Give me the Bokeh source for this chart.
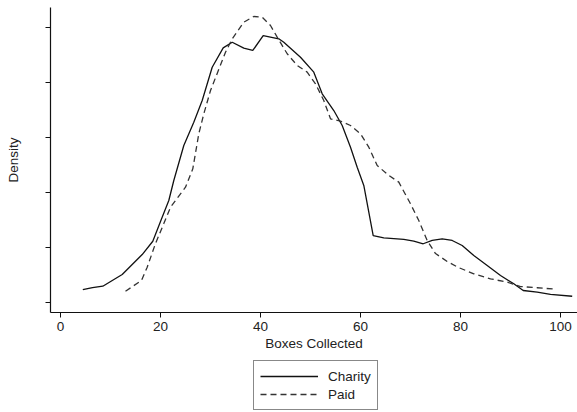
from bokeh.plotting import figure
from bokeh.models import Legend, LegendItem, FixedTicker, Range1d
from bokeh.layouts import column
from bokeh.embed import file_html
from bokeh.resources import INLINE

charity_x = [4.46, 6.4, 8.46, 12.34, 16.34, 18.46, 20.0, 21.66, 22.66, 24.66,
             26.66, 28.34, 30.34, 32.54, 34.34, 36.66, 38.46, 40.54, 43.66, 44.66,
             48.0, 50.66, 52.34, 54.66, 56.34, 58.0, 59.34, 60.66, 62.54, 64.66,
             68.66, 70.66, 72.54, 74.34, 76.34, 78.34, 80.34, 82.66, 85.34, 88.0,
             90.66, 92.54, 95.34, 98.0, 102.34]
charity_y = [0.00118, 0.00136, 0.00148, 0.00255, 0.00436, 0.00557, 0.00736, 0.00927, 0.01109, 0.01427,
             0.01639, 0.01836, 0.02139, 0.02315, 0.02366, 0.02312, 0.02291, 0.02427, 0.02397, 0.02366,
             0.02230, 0.02094, 0.01897, 0.01745, 0.01609, 0.01412, 0.01230, 0.01064, 0.00609, 0.00588,
             0.00573, 0.00557, 0.00534, 0.00564, 0.00579, 0.00564, 0.00518, 0.00427, 0.00336, 0.00245,
             0.00170, 0.00109, 0.00094, 0.00073, 0.00057]

paid_x = [13.0, 16.2, 17.34, 19.0, 20.66, 22.0, 25.0, 26.46, 27.66, 28.66,
          30.0, 33.0, 34.34, 36.66, 38.66, 40.34, 42.0, 43.34, 45.34, 47.34,
          49.34, 51.0, 52.66, 54.0, 56.0, 58.0, 60.0, 61.66, 63.34, 65.66,
          67.66, 70.0, 71.66, 73.34, 75.0, 77.34, 79.6, 82.66, 86.0, 89.34,
          92.0, 95.34, 99.0]
paid_y = [0.00103, 0.00200, 0.00321, 0.00536, 0.00718, 0.00866, 0.01048, 0.01215, 0.01534, 0.01715,
          0.01927, 0.02275, 0.02397, 0.02548, 0.02600, 0.02594, 0.02518, 0.02412, 0.02261, 0.02155,
          0.02094, 0.01988, 0.01836, 0.01670, 0.01648, 0.01609, 0.01534, 0.01412, 0.01245, 0.01155,
          0.01094, 0.00897, 0.00745, 0.00564, 0.00445, 0.00373, 0.00318, 0.00261, 0.00215, 0.00185,
          0.00145, 0.00134, 0.00121]

x_ticks = [0, 20, 40, 60, 80, 100]
y_ticks = [0, 0.005, 0.01, 0.015, 0.02, 0.025]
x_title = "Boxes Collected"
y_title = "Density"
series_names = ["Charity", "Paid"]

FONT = "Liberation Sans"
TXT = "#222222"
CH_COLOR = "#111111"
PD_COLOR = "#333333"
PD_DASH = "6 4"

x_rng = Range1d(-2, 103.4)

p = figure(width=577, height=358, output_backend="svg", toolbar_location=None,
           x_range=x_rng, y_range=Range1d(-0.000909, 0.026818),
           min_border_left=50, min_border_right=0, min_border_top=7, min_border_bottom=46)
p.outline_line_color = None
p.grid.visible = False
p.background_fill_color = "white"
p.border_fill_color = "white"

r1 = p.line(charity_x, charity_y, line_color=CH_COLOR, line_width=1.3)
r2 = p.line(paid_x, paid_y, line_color=PD_COLOR, line_width=1.3, line_dash=PD_DASH)

for ax in (p.xaxis[0], p.yaxis[0]):
    ax.axis_line_color = "#111111"
    ax.axis_line_width = 1.2
    ax.major_tick_line_color = "#111111"
    ax.major_tick_in = 0
    ax.major_tick_out = 5
    ax.minor_tick_line_color = None
    ax.axis_label_text_font = FONT
    ax.axis_label_text_font_style = "normal"
    ax.axis_label_text_font_size = "13.5px"
    ax.axis_label_text_color = TXT
    ax.major_label_text_font = FONT
    ax.major_label_text_font_size = "13.5px"
    ax.major_label_text_color = TXT

p.xaxis[0].ticker = FixedTicker(ticks=x_ticks)
p.xaxis[0].axis_label = x_title
p.xaxis[0].major_label_standoff = 4
p.xaxis[0].axis_label_standoff = 2

p.yaxis[0].ticker = FixedTicker(ticks=y_ticks)
p.yaxis[0].axis_label = y_title
p.yaxis[0].major_label_text_font_size = "0px"
p.yaxis[0].major_label_standoff = 0
p.yaxis[0].axis_label_standoff = 25

# legend strip below the chart (its series lie outside the strip's visible y range)
q = figure(width=577, height=54, output_backend="svg", toolbar_location=None,
           x_range=x_rng, y_range=Range1d(1, 2),
           min_border_left=0, min_border_right=0, min_border_top=0, min_border_bottom=0)
q.outline_line_color = None
q.grid.visible = False
q.axis.visible = False
q.background_fill_color = "white"
q.border_fill_color = "white"
l1 = q.line(charity_x, charity_y, line_color=CH_COLOR, line_width=1.3)
l2 = q.line(paid_x, paid_y, line_color=PD_COLOR, line_width=1.3, line_dash=PD_DASH)

legend = Legend(items=[LegendItem(label=series_names[0], renderers=[l1]),
                       LegendItem(label=series_names[1], renderers=[l2])],
                location=(203, 2))
legend.label_text_font = FONT
legend.label_text_font_size = "13.5px"
legend.label_text_color = TXT
legend.glyph_width = 58
legend.glyph_height = 18
legend.label_height = 18
legend.label_standoff = 10
legend.spacing = 0
legend.padding = 6
legend.margin = 0
legend.border_line_color = "#111111"
legend.border_line_width = 1
legend.background_fill_alpha = 1
q.add_layout(legend, "center")

layout = column(p, q, spacing=0)
open("out.html", "w").write(file_html(layout, INLINE))
